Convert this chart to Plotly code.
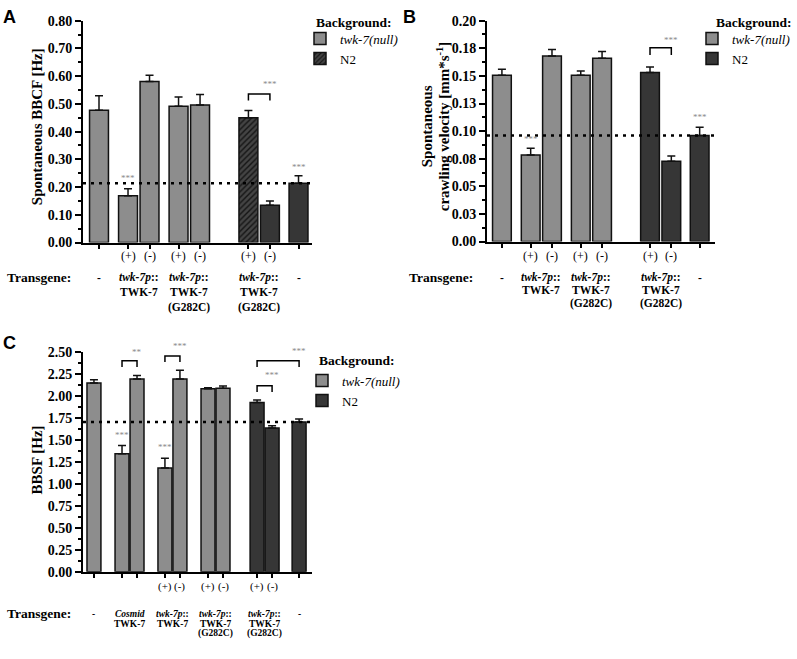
import plotly.graph_objects as go

W, H = 797, 659
SERIF = "Times New Roman, Liberation Serif, serif"
SANS = "Arial, Liberation Sans, sans-serif"
GREY = "#8d8d8d"
DARK = "#363636"
EDGE = "#111111"
STAR = "#8a8a8a"

# ---------------- data ----------------
# Panel A: Spontaneous BBCF [Hz]
A_null_vals = [0.477, 0.169, 0.581, 0.491, 0.496]
A_null_err = [0.052, 0.025, 0.022, 0.034, 0.038]
A_n2_vals = [0.450, 0.134, 0.214]
A_n2_err = [0.026, 0.016, 0.027]

# Panel B: Spontaneous crawling velocity [mm*s-1]
B_null_vals = [0.1505, 0.0783, 0.1680, 0.1505, 0.1660]
B_null_err = [0.0055, 0.0062, 0.0060, 0.0040, 0.0060]
B_n2_vals = [0.1530, 0.0727, 0.0960]
B_n2_err = [0.0050, 0.0047, 0.0074]
B_tick_vals = [0.0, 0.025, 0.05, 0.075, 0.1, 0.125, 0.15, 0.175, 0.2]
B_tick_text = ["0.00", "0.03", "0.05", "0.08", "0.10", "0.13", "0.15", "0.18", "0.20"]

# Panel C: BBSF [Hz]
C_null_vals = [2.145, 1.340, 2.190, 1.180, 2.190, 2.080, 2.086]
C_null_err = [0.035, 0.096, 0.040, 0.110, 0.100, 0.010, 0.024]
C_n2_vals = [1.924, 1.632, 1.700]
C_n2_err = [0.026, 0.026, 0.035]

series_names = ["<i>twk-7(null)</i>", "N2"]

# significance: single stars (bar index, label, y) and brackets (bar i, bar j, label, bracket y, label y)
A_single = [(1, "***", 0.232), (7, "***", 0.274)]
A_brackets = [(5, 6, "***", 0.536, 0.573)]
B_single = [(1, "***", 0.0925), (7, "***", 0.1125)]
B_brackets = [(5, 6, "***", 0.1755, 0.1825)]
C_single = [(1, "***", 1.55), (3, "***", 1.42)]
C_brackets = [(1, 2, "**", 2.397, 2.50), (3, 4, "***", 2.452, 2.565),
              (7, 9, "***", 2.397, 2.51), (7, 8, "***", 2.112, 2.234)]

AB_groups = [([0], ["-"]),
             ([1, 2], ["<i>twk-7p</i>::", "TWK-7"]),
             ([3, 4], ["<i>twk-7p</i>::", "TWK-7", "(G282C)"]),
             ([5, 6], ["<i>twk-7p</i>::", "TWK-7", "(G282C)"]),
             ([7], ["-"])]
AB_pm = [1, 2, 3, 4, 5, 6]
C_groups = [([0], ["-"]),
            ([1, 2], ["<i>Cosmid</i>", "TWK-7"]),
            ([3, 4], ["<i>twk-7p</i>::", "TWK-7"]),
            ([5, 6], ["<i>twk-7p</i>::", "TWK-7", "(G282C)"]),
            ([7, 8], ["<i>twk-7p</i>::", "TWK-7", "(G282C)"]),
            ([9], ["-"])]
C_pm = [3, 4, 5, 6, 7, 8]

# ---------------- layout helpers ----------------
AB_pos = [0, 1.35, 2.35, 3.7, 4.7, 6.95, 7.95, 9.28]
C_pos = [0, 1.87, 2.87, 4.73, 5.73, 7.6, 8.6, 10.87, 11.87, 13.67]


def px(p):
    return p / W


def py(p):
    return 1 - p / H


fig = go.Figure()
annotations = []
shapes = []

panels = [
    dict(ax="", pos=AB_pos, width=0.88, ymax=0.8, drop=0.024,
         null=(A_null_vals, A_null_err), n2=(A_n2_vals, A_n2_err),
         hatch=True, legend="legend", single=A_single, brackets=A_brackets,
         groups=AB_groups, pm=AB_pm, pm_y=255, lines_y=[277, 292, 307], tg_x=5,
         gfont=11.5, pmfont=12),
    dict(ax="2", pos=AB_pos, width=0.88, ymax=0.2, drop=0.0065,
         null=(B_null_vals, B_null_err), n2=(B_n2_vals, B_n2_err),
         hatch=False, legend="legend2", single=B_single, brackets=B_brackets,
         groups=AB_groups, pm=AB_pm, pm_y=255, lines_y=[277, 290, 303], tg_x=407,
         gfont=11.5, pmfont=12),
    dict(ax="3", pos=C_pos, width=0.93, ymax=2.5, drop=0.07,
         null=(C_null_vals, C_null_err), n2=(C_n2_vals, C_n2_err),
         hatch=False, legend="legend3", single=C_single, brackets=C_brackets,
         groups=C_groups, pm=C_pm, pm_y=593, lines_y=[621, 631, 641], tg_x=5,
         gfont=9.5, pmfont=11),
]

for p in panels:
    xa, ya = "x" + p["ax"], "y" + p["ax"]
    pos = p["pos"]
    nv, ne = p["null"]
    dv, de = p["n2"]
    n_null = len(nv)
    fig.add_trace(go.Bar(
        x=pos[:n_null], y=nv, width=p["width"], name=series_names[0],
        marker=dict(color=GREY, line=dict(color=EDGE, width=1.5)),
        error_y=dict(type="data", symmetric=False, array=ne, arrayminus=[0] * n_null,
                     color=EDGE, thickness=1.5, width=4),
        xaxis=xa, yaxis=ya, legend=p["legend"]))
    marker = dict(color=DARK, line=dict(color=EDGE, width=1.5))
    if p["hatch"]:
        marker["pattern"] = dict(shape=["/"] + [""] * (len(dv) - 1), fgcolor="#151515",
                                 bgcolor="#444444", size=4, solidity=0.35, fillmode="replace")
    fig.add_trace(go.Bar(
        x=pos[n_null:], y=dv, width=p["width"], name=series_names[1], marker=marker,
        error_y=dict(type="data", symmetric=False, array=de, arrayminus=[0] * len(dv),
                     color=EDGE, thickness=1.5, width=4),
        xaxis=xa, yaxis=ya, legend=p["legend"]))

    # dotted reference line at N2 control level
    shapes.append(dict(type="line", xref=xa + " domain", yref=ya, x0=0, x1=1,
                       y0=dv[-1], y1=dv[-1],
                       line=dict(color="black", width=2.5, dash="3px,5px")))
    # significance marks (y given as fraction of axis so labels above the axis top still show)
    ydom = ya + " domain"
    for i, txt, yy in p["single"]:
        annotations.append(dict(x=pos[i], y=yy / p["ymax"], xref=xa, yref=ydom, text=txt,
                                showarrow=False, xanchor="center", yanchor="middle",
                                font=dict(family=SERIF, size=9, color=STAR)))
    for i, j, txt, hy, sy in p["brackets"]:
        d = p["drop"]
        shapes.append(dict(type="path", xref=xa, yref=ya,
                           path=f"M{pos[i]},{hy - d} L{pos[i]},{hy} L{pos[j]},{hy} L{pos[j]},{hy - d}",
                           line=dict(color="black", width=1.5)))
        annotations.append(dict(x=pos[j], y=sy / p["ymax"], xref=xa, yref=ydom, text=txt,
                                showarrow=False, xanchor="center", yanchor="middle",
                                font=dict(family=SERIF, size=9, color=STAR)))
    # x labels
    for k, i in enumerate(p["pm"]):
        annotations.append(dict(x=pos[i], y=py(p["pm_y"]), xref=xa, yref="paper",
                                xanchor="center", yanchor="middle",
                                text="(+)" if k % 2 == 0 else "(-)", showarrow=False,
                                font=dict(family=SERIF, size=p["pmfont"], color="black")))
    for idx, lines in p["groups"]:
        cx = sum(pos[i] for i in idx) / len(idx)
        for li, t in enumerate(lines):
            annotations.append(dict(x=cx, y=py(p["lines_y"][li]), xref=xa, yref="paper",
                                    xanchor="center", yanchor="middle",
                                    text=f"<b>{t}</b>", showarrow=False,
                                    font=dict(family=SERIF, size=p["gfont"], color="black")))
    annotations.append(dict(x=px(p["tg_x"]), y=py(p["lines_y"][0]), xref="paper", yref="paper",
                            xanchor="left", yanchor="middle", text="<b>Transgene:</b>",
                            showarrow=False, font=dict(family=SERIF, size=13.5, color="black")))

axis_common = dict(showgrid=False, zeroline=False, showline=True, linewidth=2, linecolor="black",
                   ticks="outside", tickcolor="black")
yfont = dict(family=SERIF, size=14, color="black", weight="bold")
minor_common = dict(ticks="outside", ticklen=3, tickwidth=1.5, tick0=0, tickcolor="black")

layout_axes = dict(
    xaxis=dict(domain=[px(83), px(312)], anchor="y", range=[-0.744, 9.907], tickvals=AB_pos,
               showticklabels=False, ticklen=4, tickwidth=1.5, **axis_common),
    yaxis=dict(domain=[py(241), py(14)], anchor="x", range=[0, 0.8], tickmode="linear", tick0=0,
               dtick=0.1, tickformat=".2f", ticklen=6, tickwidth=2, tickfont=yfont,
               minor=dict(dtick=0.05, **minor_common), **axis_common),
    xaxis2=dict(domain=[px(487), px(715)], anchor="y2", range=[-0.70, 10.0], tickvals=AB_pos,
                showticklabels=False, ticklen=4, tickwidth=1.5, **axis_common),
    yaxis2=dict(domain=[py(240), py(14)], anchor="x2", range=[0, 0.2], tickmode="array",
                tickvals=B_tick_vals, ticktext=B_tick_text, ticklen=6, tickwidth=2, tickfont=yfont,
                minor=dict(dtick=0.0125, **minor_common), **axis_common),
    xaxis3=dict(domain=[px(83), px(312)], anchor="y3", range=[-0.73, 14.53], tickvals=C_pos,
                showticklabels=False, ticklen=4, tickwidth=1.5, **axis_common),
    yaxis3=dict(domain=[py(578), py(352.7)], anchor="x3", range=[0, 2.5], tickmode="linear",
                tick0=0, dtick=0.25, tickformat=".2f", ticklen=6, tickwidth=2, tickfont=yfont,
                minor=dict(dtick=0.125, **minor_common), **axis_common),
)

# axis titles
title_font = dict(family=SERIF, size=15, color="black")
for tx, ty, txt in [(37, 123, "<b>Spontaneous BBCF [Hz]</b>"),
                    (427, 122, "<b>Spontaneous</b>"),
                    (443, 122, "<b>crawling velocity [mm*s<sup>-1</sup>]</b>"),
                    (37, 464, "<b>BBSF [Hz]</b>")]:
    annotations.append(dict(x=px(tx), y=py(ty), xref="paper", yref="paper", text=txt,
                            textangle=-90, showarrow=False, xanchor="center", yanchor="middle",
                            font=title_font))
# panel letters
for letter, lx, ly in [("A", 9, 10), ("B", 409, 10), ("C", 9, 344)]:
    annotations.append(dict(x=px(lx), y=py(ly), xref="paper", yref="paper", text=f"<b>{letter}</b>",
                            showarrow=False, xanchor="center", yanchor="middle",
                            font=dict(family=SANS, size=18, color="black")))
# legend titles
for tx, ty in [(314, 16), (714, 16), (317, 362)]:
    annotations.append(dict(x=px(tx), y=py(ty), xref="paper", yref="paper", xanchor="left",
                            yanchor="middle", text="<b>Background:</b>", showarrow=False,
                            font=dict(family=SERIF, size=13.5, color="black")))

leg_common = dict(font=dict(family=SERIF, size=13, color="black"), bgcolor="rgba(0,0,0,0)",
                  xanchor="left", yanchor="top", tracegroupgap=0, traceorder="normal")

fig.update_layout(
    width=W, height=H, margin=dict(l=0, r=0, t=0, b=0),
    paper_bgcolor="white", plot_bgcolor="white", barmode="overlay", showlegend=True,
    legend=dict(x=px(300), y=py(17), **leg_common),
    legend2=dict(x=px(692), y=py(17), **leg_common),
    legend3=dict(x=px(302), y=py(367), **leg_common),
    annotations=annotations, shapes=shapes, **layout_axes,
)

fig.write_html("out.html", config={"displayModeBar": False},
               post_script="document.body.style.margin='0px';")
